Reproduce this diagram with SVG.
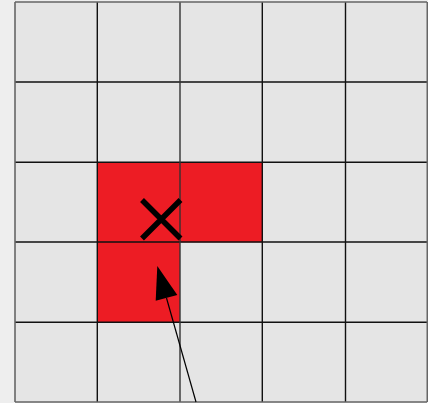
<svg xmlns="http://www.w3.org/2000/svg" width="428" height="403" viewBox="0 0 428 403">
<style>
.grid{stroke:#111;stroke-width:1.4;fill:none}
.edge{stroke:#666;stroke-width:1.6;fill:none}
.red{fill:#ed1c24}
</style>
<rect width="428" height="403" fill="#eeeeee"/>
<rect x="15" y="2" width="412" height="400" fill="#e5e5e5"/>
<g id="cells">
<rect class="red" x="97.3" y="162.3" width="165" height="80"/>
<rect class="red" x="97.3" y="242" width="82.7" height="80.3"/>
</g>
<g id="grid">
<path class="grid" d="M97.3 2V402M262.3 2V402M345.5 2V402M15 82H427M15 162.3H427M15 242H427M15 322.3H427"/>
<path class="grid" style="stroke:#333" d="M180 2V402"/>
<path class="edge" d="M15 2V402M15 2H427M427.3 2V402M15 402H427"/>
</g>
<g id="mark">
<path d="M142 200L180.5 238.5M180.5 200L142 238.5" stroke="#000" stroke-width="5.5" fill="none"/>
</g>
<g id="connectors">
<path d="M196 402L166.5 298" stroke="#000" stroke-width="1.2" fill="none"/>
<polygon points="157.3,266 155.7,300.7 177.3,295" fill="#000"/>
</g>
</svg>
